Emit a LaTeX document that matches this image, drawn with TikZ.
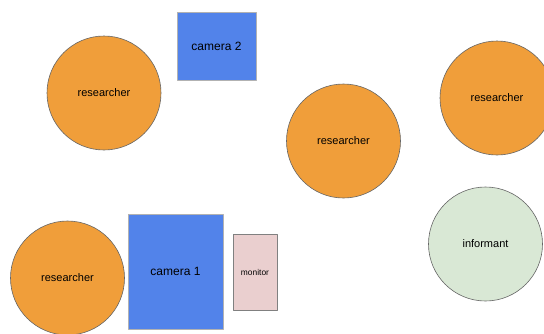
\documentclass[tikz,border=0pt]{standalone}
\usepackage{fontspec}
\setmainfont{Liberation Sans}
\usepackage{tikz}

\definecolor{personorange}{RGB}{240,158,58}
\definecolor{camblue}{RGB}{82,131,234}
\definecolor{monpink}{RGB}{234,207,207}
\definecolor{infgreen}{RGB}{217,232,213}

\begin{document}
\begin{tikzpicture}[x=1pt, y=-1pt, line join=round,
    person/.style={circle, draw=gray!80!black, line width=0.6pt, fill=personorange,
      minimum size=114pt, inner sep=0pt, font=\fontsize{11}{13}\selectfont},
    cam/.style={rectangle, draw=gray!60, line width=0.8pt, fill=camblue, inner sep=0pt,
      font=\fontsize{12}{14}\selectfont}]
    \useasboundingbox (0,0) rectangle (544,333);

    \node[person] (res1) at (104,93) {researcher};
    \node[person] (res2) at (343.5,141) {researcher};
    \node[person] (res3) at (497,98) {researcher};
    \node[person] (res4) at (67.5,278) {researcher};
    \node[person, fill=infgreen] (inf) at (485.5,244) {informant};

    \node[cam, minimum width=79pt, minimum height=68pt] (cam2) at (216.5,46) {camera 2};
    \node[cam, minimum width=95pt, minimum height=115pt] (cam1) at (175.5,271.5) {camera 1};
    \node[cam, fill=monpink, draw=gray, minimum width=44pt, minimum height=76pt,
      font=\fontsize{8.4}{10}\selectfont] (mon) at (255,272) {monitor};
  \end{tikzpicture}
\end{document}
